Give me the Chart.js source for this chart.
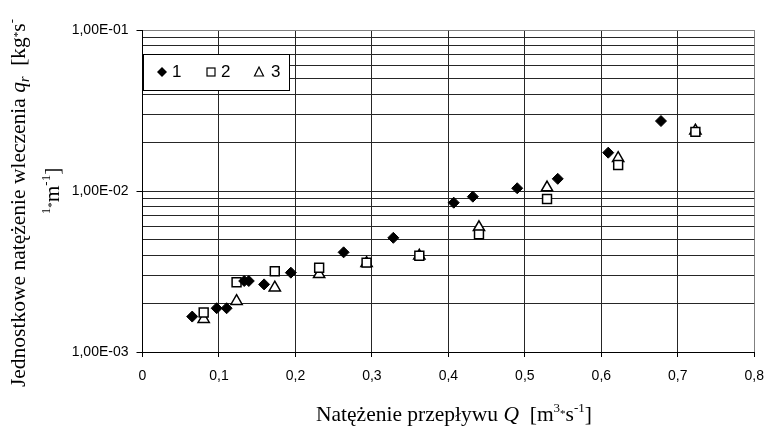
<!DOCTYPE html>
<html lang="pl">
<head>
<meta charset="UTF-8" />
<title>Jednostkowe natężenie wleczenia</title>
<script src="https://cdn.jsdelivr.net/npm/chart.js@4"></script>
<style>
  body { margin: 0; background: #ffffff; }
  #wrap { width: 775px; height: 428px; }
</style>
</head>
<body>
<div id="wrap"><canvas id="qrChart" width="775" height="428"></canvas></div>
<script>
  // --- dane
  const seriesNames = ['1', '2', '3'];

  const q1  = [0.065, 0.097, 0.110, 0.133, 0.139, 0.159, 0.194, 0.263, 0.328, 0.407, 0.432, 0.490, 0.543, 0.609, 0.678];
  const qr1 = [1.66e-3, 1.87e-3, 1.87e-3, 2.76e-3, 2.76e-3, 2.63e-3, 3.11e-3, 4.16e-3, 5.12e-3, 8.46e-3, 9.22e-3, 1.04e-2, 1.19e-2, 1.73e-2, 2.72e-2];

  const q2  = [0.080, 0.123, 0.173, 0.231, 0.293, 0.362, 0.440, 0.529, 0.622, 0.723];
  const qr2 = [1.76e-3, 2.71e-3, 3.17e-3, 3.34e-3, 3.59e-3, 3.96e-3, 5.38e-3, 8.92e-3, 1.45e-2, 2.33e-2];

  const q3  = [0.080, 0.123, 0.173, 0.231, 0.293, 0.362, 0.440, 0.529, 0.622, 0.723];
  const qr3 = [1.60e-3, 2.07e-3, 2.51e-3, 3.04e-3, 3.56e-3, 3.96e-3, 5.95e-3, 1.05e-2, 1.60e-2, 2.37e-2];

  const xTickLabels = ['0', '0,1', '0,2', '0,3', '0,4', '0,5', '0,6', '0,7', '0,8'];
  const yDecades = [1e-3, 1e-2, 1e-1];
  const yTickLabels = ['1,00E-03', '1,00E-02', '1,00E-01'];

  const toPoints = (xs, ys) => xs.map((x, i) => ({ x: x, y: ys[i] }));

  const sans = '"Liberation Sans", Arial, sans-serif';
  const serif = '"Liberation Serif", "Times New Roman", serif';

  function decadeIndex(v) {
    return yDecades.findIndex(d => Math.abs(v - d) / d < 1e-6);
  }

  // tekst z indeksami górnymi / dolnymi, wyśrodkowany w punkcie (x, y)
  function drawRich(ctx, parts, x, y) {
    let total = 0;
    parts.forEach(p => { ctx.font = p.f; p.w = ctx.measureText(p.t).width; total += p.w; });
    let cx = x - total / 2;
    parts.forEach(p => {
      ctx.font = p.f;
      ctx.fillText(p.t, cx, y + (p.dy || 0));
      cx += p.w;
    });
  }

  const R = '21.5px ' + serif;
  const I = 'italic 21.5px ' + serif;
  const SUP = '13px ' + serif;
  const STAR = '11px ' + serif;
  const GRID = '#262626';

  const titlesPlugin = {
    id: 'titles',
    afterDraw(chart) {
      const ctx = chart.ctx;
      ctx.save();
      ctx.fillStyle = '#000';
      ctx.textBaseline = 'alphabetic';
      ctx.textAlign = 'left';

      // tytuł osi X
      drawRich(ctx, [
        { t: 'Natężenie przepływu ', f: R },
        { t: 'Q', f: I },
        { t: '  [m', f: R },
        { t: '3', f: SUP, dy: -9 },
        { t: '*', f: STAR, dy: -4 },
        { t: 's', f: R },
        { t: '-1', f: SUP, dy: -9 },
        { t: ']', f: R }
      ], 454, 421);

      // tytuł osi Y (dwie linie, obrócone)
      ctx.save();
      ctx.translate(25, 203);
      ctx.rotate(-Math.PI / 2);
      drawRich(ctx, [
        { t: 'Jednostkowe natężenie wleczenia ', f: R },
        { t: 'q', f: I },
        { t: 'r', f: 'italic 14px ' + serif, dy: 4 },
        { t: '  [kg', f: R },
        { t: '*', f: STAR, dy: -4 },
        { t: 's', f: R },
        { t: '-', f: SUP, dy: -9 }
      ], 0, 0);
      ctx.restore();

      ctx.save();
      ctx.translate(58.5, 191);
      ctx.rotate(-Math.PI / 2);
      drawRich(ctx, [
        { t: '1', f: SUP, dy: -9 },
        { t: '*', f: STAR, dy: -4 },
        { t: 'm', f: R },
        { t: '-1', f: SUP, dy: -9 },
        { t: ']', f: R }
      ], 0, 0);
      ctx.restore();

      // legenda wewnątrz obszaru wykresu
      const area = chart.chartArea;
      const bx = Math.round(area.left) + 0.5, by = 54.5;
      ctx.fillStyle = '#fff';
      ctx.strokeStyle = '#000';
      ctx.lineWidth = 1;
      ctx.fillRect(bx, by, 146, 36);
      ctx.strokeRect(bx, by, 146, 36);

      const my = 72;
      ctx.fillStyle = '#000';
      // romb
      ctx.beginPath();
      ctx.moveTo(162, my - 5); ctx.lineTo(167, my); ctx.lineTo(162, my + 5); ctx.lineTo(157, my);
      ctx.closePath(); ctx.fill();
      // kwadrat
      ctx.lineWidth = 1.2;
      ctx.strokeRect(207, my - 4, 8, 8);
      // trójkąt
      ctx.beginPath();
      ctx.moveTo(259, my - 5); ctx.lineTo(263.5, my + 4); ctx.lineTo(254.5, my + 4);
      ctx.closePath(); ctx.stroke();

      ctx.font = '17px ' + sans;
      ctx.fillText(seriesNames[0], 172, 77);
      ctx.fillText(seriesNames[1], 221, 77);
      ctx.fillText(seriesNames[2], 271, 77);
      ctx.restore();
    }
  };

  new Chart(document.getElementById('qrChart'), {
    type: 'scatter',
    data: {
      datasets: [
        {
          label: seriesNames[0],
          data: toPoints(q1, qr1),
          pointStyle: 'rectRot',
          pointRadius: 5.5,
          backgroundColor: '#000',
          borderColor: '#000',
          borderWidth: 1
        },
        {
          label: seriesNames[1],
          data: toPoints(q2, qr2),
          pointStyle: 'rect',
          pointRadius: 6.3,
          backgroundColor: '#fff',
          borderColor: '#000',
          borderWidth: 1.5
        },
        {
          label: seriesNames[2],
          data: toPoints(q3, qr3),
          pointStyle: 'triangle',
          pointRadius: 6.5,
          backgroundColor: '#fff',
          borderColor: '#000',
          borderWidth: 1.5
        }
      ]
    },
    options: {
      responsive: false,
      animation: false,
      devicePixelRatio: 1,
      layout: { padding: { top: 30, right: 13, left: 0, bottom: 0 } },
      plugins: {
        legend: { display: false },
        tooltip: { enabled: false }
      },
      scales: {
        x: {
          type: 'linear',
          min: 0,
          max: 0.8,
          afterFit: s => { s.height = 76; },
          ticks: {
            stepSize: 0.1,
            padding: 11,
            color: '#000',
            font: { family: sans, size: 14 },
            callback: (v, i) => xTickLabels[i]
          },
          grid: {
            color: c => (c.tick && c.tick.value > 0.79) ? '#808080' : GRID,
            lineWidth: 1,
            tickLength: 5,
            tickColor: '#000'
          },
          border: { color: '#000', width: 1 }
        },
        y: {
          type: 'logarithmic',
          min: 1e-3,
          max: 1e-1,
          afterFit: s => { s.width = 142.5; },
          afterBuildTicks: s => {
            // tylko linie 1..9 x 10^n
            s.ticks = s.ticks.filter(t => {
              const m = t.value / Math.pow(10, Math.floor(Math.log10(t.value) + 1e-9));
              return Math.abs(m - Math.round(m)) < 1e-6;
            });
          },
          ticks: {
            autoSkip: false,
            padding: 8,
            color: '#000',
            font: { family: sans, size: 14 },
            callback: v => {
              const k = decadeIndex(v);
              return k >= 0 ? yTickLabels[k] : '';
            }
          },
          grid: {
            color: c => (c.tick && Math.abs(c.tick.value - 0.1) < 1e-9) ? '#808080' : GRID,
            lineWidth: 1,
            tickLength: 6,
            tickColor: c => (c.tick && decadeIndex(c.tick.value) >= 0) ? '#000' : 'rgba(0,0,0,0)'
          },
          border: { color: '#000', width: 1 }
        }
      }
    },
    plugins: [titlesPlugin]
  });
</script>
</body>
</html>
